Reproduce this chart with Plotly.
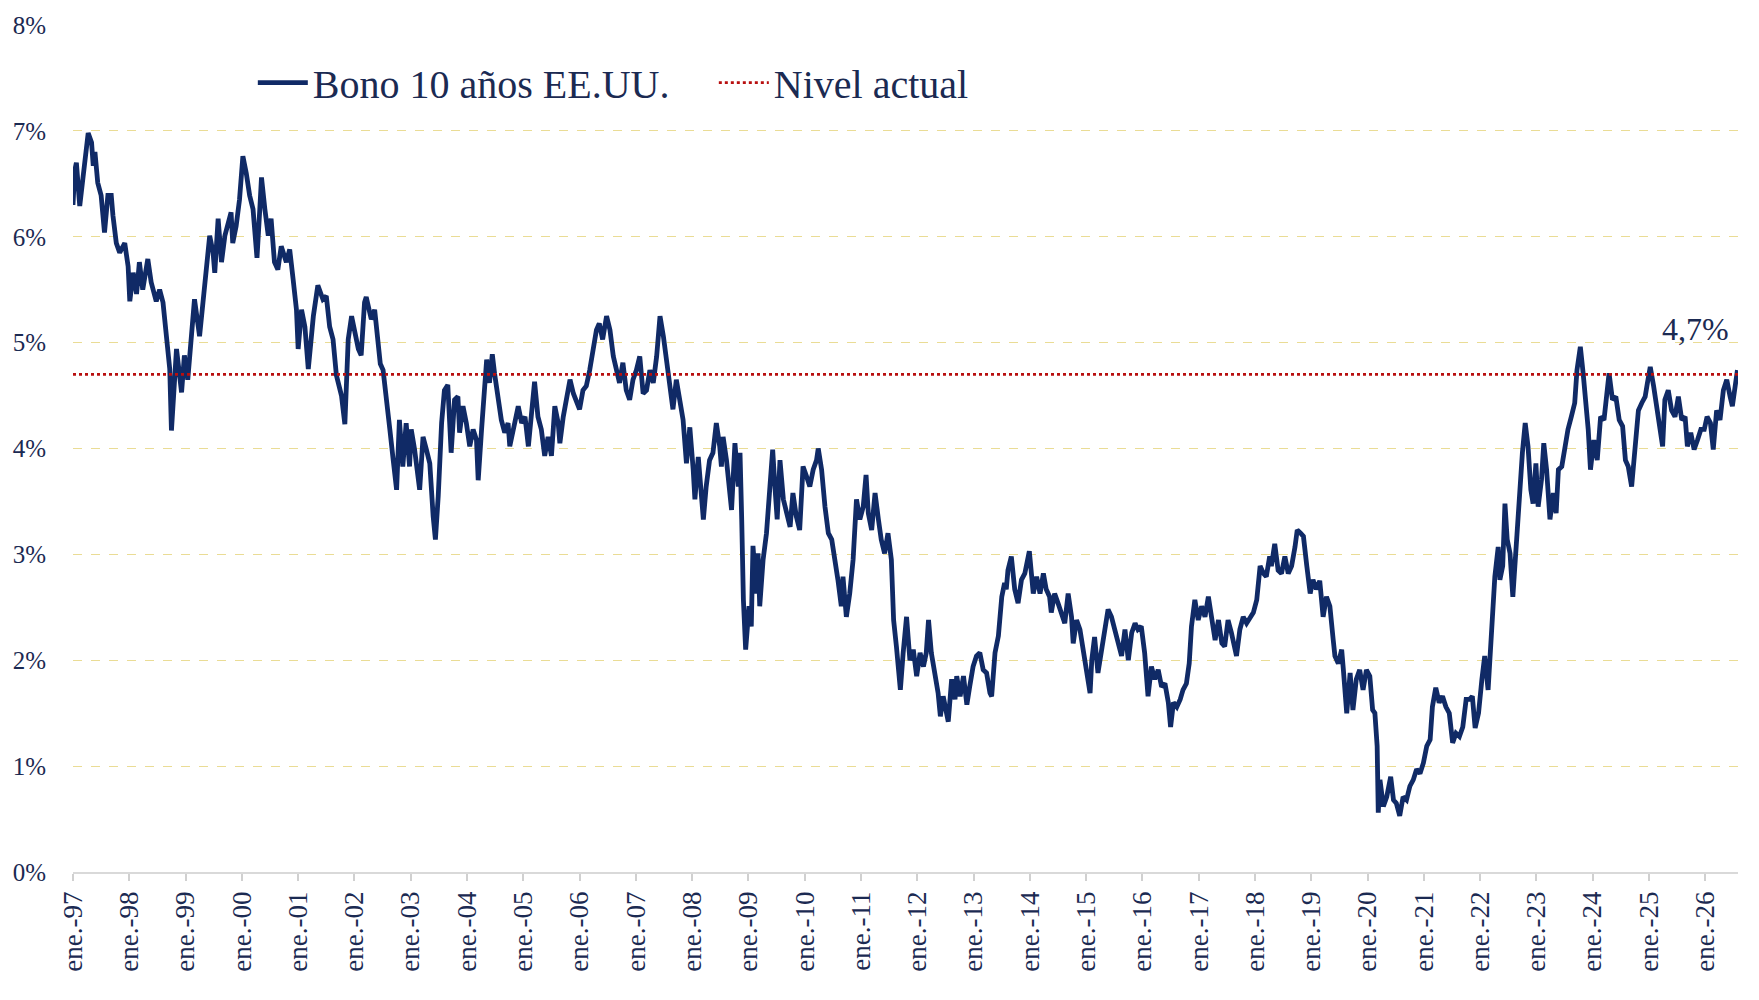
import pandas as pd
import plotly.graph_objects as go

# ---------------- Datos ----------------
# Fechas en años decimales y rendimiento del bono a 10 años EE.UU. (%)
fechas_1997_2001 = [1997.00, 1997.03, 1997.06, 1997.12, 1997.18, 1997.24, 1997.27, 1997.33, 1997.36, 1997.39,
                    1997.44, 1997.50, 1997.56, 1997.62, 1997.68, 1997.71, 1997.77, 1997.83, 1997.92, 1997.98,
                    1998.01, 1998.07, 1998.13, 1998.18, 1998.24, 1998.33, 1998.39, 1998.48, 1998.54, 1998.60,
                    1998.66, 1998.72, 1998.75, 1998.81, 1998.84, 1998.93, 1998.98, 1999.04, 1999.10, 1999.16,
                    1999.25, 1999.31, 1999.37, 1999.43, 1999.49, 1999.52, 1999.58, 1999.64, 1999.70, 1999.75,
                    1999.81, 1999.84, 1999.90, 1999.96, 1999.99, 2000.02, 2000.08, 2000.14, 2000.20, 2000.27,
                    2000.32, 2000.35, 2000.41, 2000.47, 2000.52, 2000.58, 2000.64, 2000.70, 2000.79, 2000.85,
                    2000.91, 2000.97, 2001.00, 2001.06, 2001.12, 2001.18, 2001.27, 2001.35, 2001.44, 2001.50,
                    2001.56, 2001.62, 2001.68, 2001.77, 2001.83, 2001.89, 2001.95]
bono_1997_2001 = [6.30, 6.62, 6.70, 6.29, 6.57, 6.89, 6.98, 6.89, 6.67, 6.80,
                  6.51, 6.39, 6.04, 6.39, 6.39, 6.20, 5.94, 5.85, 5.94, 5.72,
                  5.39, 5.66, 5.46, 5.76, 5.50, 5.79, 5.57, 5.39, 5.50, 5.38,
                  5.06, 4.75, 4.17, 4.60, 4.94, 4.53, 4.88, 4.65, 5.00, 5.41,
                  5.06, 5.38, 5.66, 6.01, 5.85, 5.66, 6.17, 5.76, 6.01, 6.13,
                  6.23, 5.94, 6.10, 6.35, 6.60, 6.76, 6.60, 6.39, 6.26, 5.80,
                  6.26, 6.56, 6.26, 6.01, 6.17, 5.76, 5.69, 5.91, 5.76, 5.88,
                  5.60, 5.31, 4.94, 5.31, 5.15, 4.75, 5.25, 5.54, 5.41, 5.44,
                  5.15, 5.03, 4.69, 4.50, 4.23, 5.03, 5.25]

fechas_2002_2007 = [2002.01, 2002.07, 2002.12, 2002.18, 2002.21, 2002.30, 2002.36, 2002.42, 2002.46, 2002.51,
                    2002.57, 2002.63, 2002.69, 2002.75, 2002.80, 2002.86, 2002.92, 2002.98, 2003.01, 2003.07,
                    2003.16, 2003.22, 2003.28, 2003.34, 2003.40, 2003.44, 2003.49, 2003.55, 2003.60, 2003.66,
                    2003.72, 2003.78, 2003.84, 2003.87, 2003.93, 2003.99, 2004.05, 2004.11, 2004.17, 2004.20,
                    2004.26, 2004.32, 2004.35, 2004.40, 2004.45, 2004.49, 2004.55, 2004.61, 2004.67, 2004.73,
                    2004.76, 2004.82, 2004.91, 2004.97, 2005.03, 2005.09, 2005.14, 2005.20, 2005.26, 2005.32,
                    2005.38, 2005.44, 2005.50, 2005.56, 2005.62, 2005.65, 2005.71, 2005.77, 2005.83, 2005.89,
                    2005.94, 2006.00, 2006.06, 2006.12, 2006.18, 2006.24, 2006.30, 2006.35, 2006.41, 2006.48,
                    2006.54, 2006.60, 2006.66, 2006.71, 2006.77, 2006.83, 2006.89, 2006.95, 2007.01, 2007.07,
                    2007.13, 2007.19, 2007.25, 2007.31, 2007.37, 2007.43, 2007.49, 2007.54, 2007.60, 2007.66,
                    2007.72, 2007.78, 2007.84, 2007.90, 2007.96]
bono_2002_2007 = [5.09, 4.94, 4.88, 5.38, 5.43, 5.22, 5.31, 5.00, 4.80, 4.74,
                  4.40, 4.18, 3.89, 3.61, 4.27, 3.83, 4.24, 3.83, 4.18, 3.99,
                  3.61, 4.11, 3.99, 3.86, 3.36, 3.14, 3.55, 4.24, 4.55, 4.60,
                  3.96, 4.46, 4.49, 4.15, 4.40, 4.24, 4.02, 4.18, 4.08, 3.70,
                  4.18, 4.62, 4.84, 4.62, 4.89, 4.71, 4.46, 4.27, 4.15, 4.24,
                  4.02, 4.18, 4.40, 4.24, 4.30, 4.02, 4.33, 4.63, 4.30, 4.18,
                  3.93, 4.11, 3.93, 4.40, 4.24, 4.05, 4.30, 4.49, 4.65, 4.52,
                  4.46, 4.37, 4.55, 4.59, 4.74, 4.93, 5.12, 5.18, 5.03, 5.25,
                  5.12, 4.87, 4.74, 4.62, 4.81, 4.55, 4.46, 4.65, 4.74, 4.87,
                  4.52, 4.55, 4.74, 4.62, 4.87, 5.25, 5.06, 4.87, 4.65, 4.37,
                  4.65, 4.43, 4.27, 3.86, 4.20]

fechas_2008_2013 = [2008.02, 2008.05, 2008.11, 2008.17, 2008.20, 2008.25, 2008.31, 2008.37, 2008.43, 2008.49,
                    2008.52, 2008.55, 2008.61, 2008.70, 2008.76, 2008.82, 2008.85, 2008.88, 2008.91, 2008.95,
                    2009.01, 2009.05, 2009.08, 2009.14, 2009.17, 2009.20, 2009.26, 2009.32, 2009.38, 2009.43,
                    2009.47, 2009.51, 2009.56, 2009.62, 2009.68, 2009.74, 2009.79, 2009.85, 2009.91, 2009.97,
                    2010.03, 2010.09, 2010.15, 2010.21, 2010.24, 2010.30, 2010.36, 2010.42, 2010.48, 2010.54,
                    2010.59, 2010.65, 2010.68, 2010.74, 2010.80, 2010.86, 2010.92, 2010.98, 2011.04, 2011.09,
                    2011.13, 2011.19, 2011.25, 2011.31, 2011.36, 2011.42, 2011.48, 2011.54, 2011.58, 2011.63,
                    2011.70, 2011.75, 2011.81, 2011.87, 2011.93, 2011.99, 2012.05, 2012.11, 2012.16, 2012.20,
                    2012.25, 2012.31, 2012.37, 2012.41, 2012.46, 2012.52, 2012.55, 2012.61, 2012.67, 2012.70,
                    2012.76, 2012.82, 2012.88, 2012.93, 2012.99, 2013.05, 2013.11, 2013.17, 2013.23, 2013.29,
                    2013.32, 2013.38, 2013.44, 2013.50, 2013.55, 2013.58, 2013.61, 2013.67, 2013.73, 2013.79,
                    2013.85, 2013.91, 2013.99]
bono_2008_2013 = [3.80, 3.52, 3.92, 3.58, 3.33, 3.64, 3.89, 3.96, 4.24, 4.02,
                  3.83, 4.11, 3.89, 3.42, 4.05, 3.64, 3.96, 3.33, 2.57, 2.10,
                  2.51, 2.32, 3.08, 2.63, 3.01, 2.51, 2.95, 3.20, 3.64, 3.99,
                  3.64, 3.33, 3.89, 3.52, 3.39, 3.26, 3.58, 3.36, 3.23, 3.83,
                  3.74, 3.64, 3.80, 3.89, 4.00, 3.80, 3.45, 3.20, 3.14, 2.95,
                  2.76, 2.51, 2.79, 2.41, 2.63, 2.95, 3.52, 3.33, 3.45, 3.75,
                  3.39, 3.23, 3.58, 3.33, 3.14, 3.01, 3.20, 2.95, 2.38, 2.13,
                  1.72, 2.07, 2.41, 2.00, 2.10, 1.85, 2.07, 1.94, 2.07, 2.38,
                  2.07, 1.88, 1.69, 1.47, 1.66, 1.50, 1.42, 1.82, 1.63, 1.85,
                  1.66, 1.85, 1.58, 1.75, 1.94, 2.04, 2.07, 1.91, 1.88, 1.69,
                  1.66, 2.07, 2.23, 2.60, 2.73, 2.67, 2.85, 2.98, 2.67, 2.54,
                  2.76, 2.82, 3.03]

fechas_2014_2019 = [2014.06, 2014.12, 2014.18, 2014.24, 2014.29, 2014.35, 2014.38, 2014.44, 2014.50, 2014.56,
                    2014.62, 2014.68, 2014.74, 2014.77, 2014.83, 2014.89, 2014.95, 2015.01, 2015.07, 2015.10,
                    2015.15, 2015.21, 2015.27, 2015.33, 2015.39, 2015.45, 2015.51, 2015.57, 2015.63, 2015.69,
                    2015.75, 2015.81, 2015.87, 2015.92, 2015.98, 2016.04, 2016.10, 2016.16, 2016.22, 2016.28,
                    2016.34, 2016.40, 2016.46, 2016.50, 2016.55, 2016.61, 2016.67, 2016.72, 2016.78, 2016.83,
                    2016.87, 2016.93, 2016.99, 2017.05, 2017.11, 2017.17, 2017.23, 2017.29, 2017.35, 2017.41,
                    2017.46, 2017.52, 2017.58, 2017.67, 2017.73, 2017.79, 2017.85, 2017.91, 2017.97, 2018.03,
                    2018.09, 2018.15, 2018.20, 2018.26, 2018.29, 2018.35, 2018.41, 2018.47, 2018.53, 2018.59,
                    2018.65, 2018.71, 2018.75, 2018.81, 2018.86, 2018.92, 2018.98, 2019.03, 2019.09, 2019.15,
                    2019.21, 2019.27, 2019.33, 2019.39, 2019.42, 2019.48, 2019.54, 2019.57, 2019.63, 2019.69,
                    2019.74, 2019.80, 2019.86, 2019.92, 2019.98]
bono_2014_2019 = [2.63, 2.79, 2.63, 2.82, 2.67, 2.60, 2.45, 2.63, 2.54, 2.45,
                  2.35, 2.63, 2.41, 2.16, 2.38, 2.29, 2.07, 1.91, 1.69, 2.00,
                  2.22, 1.88, 2.10, 2.29, 2.48, 2.41, 2.29, 2.19, 2.04, 2.29,
                  2.00, 2.26, 2.35, 2.29, 2.32, 2.07, 1.66, 1.94, 1.82, 1.91,
                  1.75, 1.78, 1.60, 1.37, 1.60, 1.56, 1.63, 1.72, 1.78, 1.97,
                  2.32, 2.57, 2.38, 2.51, 2.41, 2.60, 2.35, 2.19, 2.38, 2.16,
                  2.13, 2.38, 2.26, 2.04, 2.29, 2.41, 2.35, 2.41, 2.45, 2.57,
                  2.89, 2.82, 2.79, 2.98, 2.89, 3.10, 2.85, 2.82, 2.98, 2.82,
                  2.89, 3.07, 3.23, 3.20, 3.17, 2.89, 2.63, 2.76, 2.67, 2.75,
                  2.41, 2.60, 2.51, 2.19, 2.04, 1.97, 2.10, 1.91, 1.50, 1.88,
                  1.53, 1.82, 1.91, 1.72, 1.91]

fechas_2020_2026 = [2020.04, 2020.09, 2020.13, 2020.17, 2020.19, 2020.22, 2020.28, 2020.34, 2020.41, 2020.46,
                    2020.51, 2020.57, 2020.63, 2020.69, 2020.75, 2020.81, 2020.87, 2020.93, 2020.99, 2021.05,
                    2021.11, 2021.15, 2021.21, 2021.27, 2021.33, 2021.39, 2021.45, 2021.51, 2021.57, 2021.63,
                    2021.69, 2021.75, 2021.81, 2021.86, 2021.91, 2021.97, 2022.03, 2022.08, 2022.14, 2022.19,
                    2022.22, 2022.26, 2022.32, 2022.35, 2022.40, 2022.44, 2022.48, 2022.53, 2022.58, 2022.62,
                    2022.68, 2022.72, 2022.75, 2022.80, 2022.85, 2022.90, 2022.94, 2022.99, 2023.03, 2023.09,
                    2023.13, 2023.18, 2023.24, 2023.30, 2023.35, 2023.39, 2023.45, 2023.51, 2023.56, 2023.62,
                    2023.68, 2023.72, 2023.78, 2023.83, 2023.88, 2023.92, 2023.96, 2024.02, 2024.08, 2024.14,
                    2024.20, 2024.25, 2024.29, 2024.35, 2024.41, 2024.47, 2024.53, 2024.58, 2024.63, 2024.69,
                    2024.75, 2024.81, 2024.87, 2024.93, 2024.97, 2025.02, 2025.08, 2025.13, 2025.19, 2025.24,
                    2025.28, 2025.34, 2025.40, 2025.46, 2025.52, 2025.58, 2025.64, 2025.68, 2025.74, 2025.80,
                    2025.86, 2025.92, 2025.98, 2026.03, 2026.09, 2026.14, 2026.20, 2026.26, 2026.32, 2026.38,
                    2026.44, 2026.48, 2026.53, 2026.57]
bono_2020_2026 = [1.85, 1.53, 1.50, 1.19, 0.56, 0.87, 0.62, 0.71, 0.90, 0.68,
                  0.65, 0.53, 0.71, 0.68, 0.81, 0.87, 0.97, 0.93, 1.03, 1.19,
                  1.25, 1.56, 1.74, 1.60, 1.66, 1.56, 1.50, 1.22, 1.31, 1.28,
                  1.37, 1.63, 1.63, 1.66, 1.36, 1.50, 1.82, 2.04, 1.72, 2.19,
                  2.45, 2.79, 3.07, 2.76, 2.89, 3.48, 3.14, 3.01, 2.60, 2.95,
                  3.30, 3.77, 3.96, 4.24, 4.02, 3.61, 3.48, 3.86, 3.45, 3.71,
                  4.05, 3.80, 3.33, 3.58, 3.39, 3.80, 3.83, 4.02, 4.18, 4.30,
                  4.43, 4.74, 4.96, 4.71, 4.46, 4.18, 3.80, 4.08, 3.89, 4.30,
                  4.27, 4.49, 4.71, 4.46, 4.49, 4.27, 4.21, 3.89, 3.83, 3.64,
                  4.02, 4.36, 4.43, 4.49, 4.62, 4.77, 4.59, 4.40, 4.18, 4.02,
                  4.46, 4.55, 4.36, 4.30, 4.49, 4.27, 4.30, 4.02, 4.15, 3.99,
                  4.08, 4.18, 4.18, 4.30, 4.24, 3.99, 4.36, 4.27, 4.55, 4.65,
                  4.49, 4.40, 4.59, 4.74]

nivel_actual = 4.7
anios_ticks = list(range(1997, 2027))
etiquetas_x = [f"ene.-{a % 100:02d}" for a in anios_ticks]
valores_y = list(range(0, 9))
etiquetas_y = [f"{v}%" for v in valores_y]
serie_nombre = "Bono 10 años EE.UU."
nivel_nombre = "Nivel actual"

# ---------------- Preparación ----------------
fechas_dec = fechas_1997_2001 + fechas_2002_2007 + fechas_2008_2013 + fechas_2014_2019 + fechas_2020_2026
bono = bono_1997_2001 + bono_2002_2007 + bono_2008_2013 + bono_2014_2019 + bono_2020_2026
assert len(fechas_dec) == len(bono), (len(fechas_dec), len(bono))


def a_fecha(t):
    y = int(t)
    ini = pd.Timestamp(year=y, month=1, day=1)
    dias = (pd.Timestamp(year=y + 1, month=1, day=1) - ini).days
    return ini + pd.Timedelta(days=round((t - y) * dias, 3))


fechas = [a_fecha(t) for t in fechas_dec]
x_ini = a_fecha(1997.0)
x_fin = a_fecha(2026.58)
tick_fechas = [pd.Timestamp(year=a, month=1, day=1) for a in anios_ticks]

NAVY_TXT = "#1B2A52"
FONT = "Liberation Serif"

fig = go.Figure()
fig.add_trace(go.Scatter(
    x=fechas, y=bono, mode="lines", name=serie_nombre,
    line=dict(color="#102A66", width=4.8), hoverinfo="x+y"))
fig.add_trace(go.Scatter(
    x=[x_ini, x_fin], y=[nivel_actual, nivel_actual], mode="lines", name=nivel_nombre,
    line=dict(color="#B80F0F", width=2.6, dash="dot")))

fig.add_annotation(
    x=1, xref="paper", y=nivel_actual, yref="y",
    text=f"{nivel_actual:.1f}%".replace(".", ","),
    showarrow=False, xanchor="right", yanchor="bottom", xshift=-7, yshift=25,
    font=dict(family=FONT, size=32, color=NAVY_TXT))

fig.update_layout(
    width=1759, height=1000,
    margin=dict(l=73, r=21, t=25, b=128, autoexpand=False),
    paper_bgcolor="white", plot_bgcolor="white",
    font=dict(family=FONT, color=NAVY_TXT),
    showlegend=True,
    legend=dict(orientation="h", x=0.108, y=0.932, xanchor="left", yanchor="middle",
                font=dict(family=FONT, size=40, color=NAVY_TXT),
                bgcolor="rgba(0,0,0,0)", itemwidth=50,
                entrywidth=396, entrywidthmode="pixels"),
    xaxis=dict(type="date", range=[x_ini, x_fin], tickvals=tick_fechas, ticktext=etiquetas_x,
               tickangle=-90, ticks="outside", ticklen=7, tickcolor="#D0D0D0", tickwidth=1.5,
               showline=True, linecolor="#D9D9D9", linewidth=1.5, showgrid=False, zeroline=False,
               tickfont=dict(family=FONT, size=27, color=NAVY_TXT), automargin=False),
    yaxis=dict(range=[0, 8], tickvals=valores_y, ticktext=etiquetas_y, showgrid=True,
               gridcolor="#EADC95", griddash="dash", gridwidth=1.3, zeroline=False, showline=False,
               ticks="", ticklabelstandoff=26,
               tickfont=dict(family=FONT, size=25, color=NAVY_TXT), automargin=False),
)

fig.write_html("out.html", config={"displayModeBar": False},
               post_script="document.body.style.margin='0';")
